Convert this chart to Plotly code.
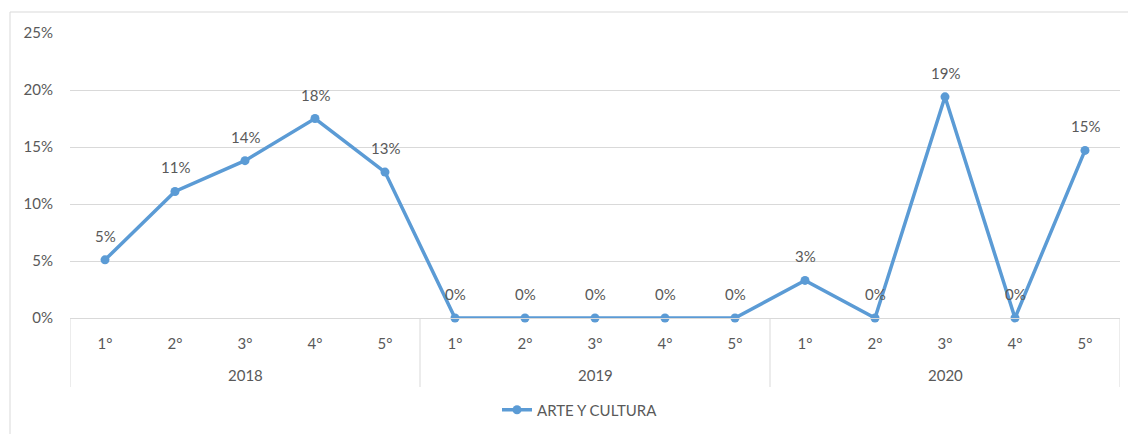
import plotly.graph_objects as go

years = ["2018", "2019", "2020"]
grades = ["1°", "2°", "3°", "4°", "5°"]
arte_cultura = [0.051, 0.111, 0.138, 0.175, 0.128,
                0.0, 0.0, 0.0, 0.0, 0.0,
                0.033, 0.0, 0.194, 0.0, 0.147]
y_ticks = [0, 0.05, 0.10, 0.15, 0.20, 0.25]

W, H = 1128, 434
L, R, T, B = 70, 8, 33, 116
pw, ph = W - L - R, H - T - B

FAM = "Lato, Open Sans, sans-serif"
font = dict(family=FAM, size=15, color="#595959")
GRID = "#d9d9d9"

n_per = len(grades)
xs = list(range(len(years) * n_per))
tick_text = grades * len(years)

fig = go.Figure()
fig.add_trace(go.Scatter(
    x=xs,
    y=arte_cultura,
    mode="lines+markers",
    name="ARTE Y CULTURA",
    line=dict(color="#5B9BD5", width=3.5),
    marker=dict(color="#5B9BD5", size=9),
    cliponaxis=False,
))

# data labels
for x, v in zip(xs, arte_cultura):
    fig.add_annotation(x=x, y=v, xref="x", yref="y", text=f"{v:.0%}",
                       showarrow=False, yanchor="middle", yshift=24, font=font)

# year labels and group dividers of the category axis
for i, yr in enumerate(years):
    fig.add_annotation(x=i * n_per + (n_per - 1) / 2, y=(318 - 375) / ph,
                       xref="x", yref="paper", text=yr, showarrow=False,
                       yanchor="middle", font=font)
for i in range(len(years) + 1):
    xd = i * n_per - 0.5
    fig.add_shape(type="line", xref="x", yref="paper", x0=xd, x1=xd,
                  y0=0, y1=-(387 - 318) / ph, line=dict(color=GRID, width=1))

# outer chart border
fig.add_shape(type="rect", xref="paper", yref="paper",
              x0=(10 - L) / pw, x1=(W + 20 - L) / pw,
              y0=-(H + 20 - T - ph) / ph, y1=1 + (T - 12) / ph,
              line=dict(color=GRID, width=1), fillcolor="rgba(0,0,0,0)", layer="below")

fig.update_layout(
    width=W, height=H,
    margin=dict(l=L, r=R, t=T, b=B, autoexpand=False),
    paper_bgcolor="white", plot_bgcolor="white",
    font=font,
    showlegend=True,
    legend=dict(orientation="h", x=(580 - L) / pw, xanchor="center",
                y=-(410 - 318) / ph, yanchor="middle", font=font),
)
fig.update_xaxes(
    range=[-0.5, len(xs) - 0.5],
    tickvals=xs, ticktext=tick_text,
    showline=True, linecolor=GRID, linewidth=1,
    showgrid=False, zeroline=False,
    ticks="", ticklabelstandoff=12,
    tickfont=font, automargin=False,
)
fig.update_yaxes(
    range=[0, 0.25],
    tickvals=y_ticks, tickformat=".0%",
    showgrid=True, gridcolor=GRID, gridwidth=1,
    zeroline=False, showline=False,
    ticklabelstandoff=16,
    tickfont=font, automargin=False,
)

fig.write_html("out.html", config={"displayModeBar": False},
               post_script="document.body.style.margin='0';")
